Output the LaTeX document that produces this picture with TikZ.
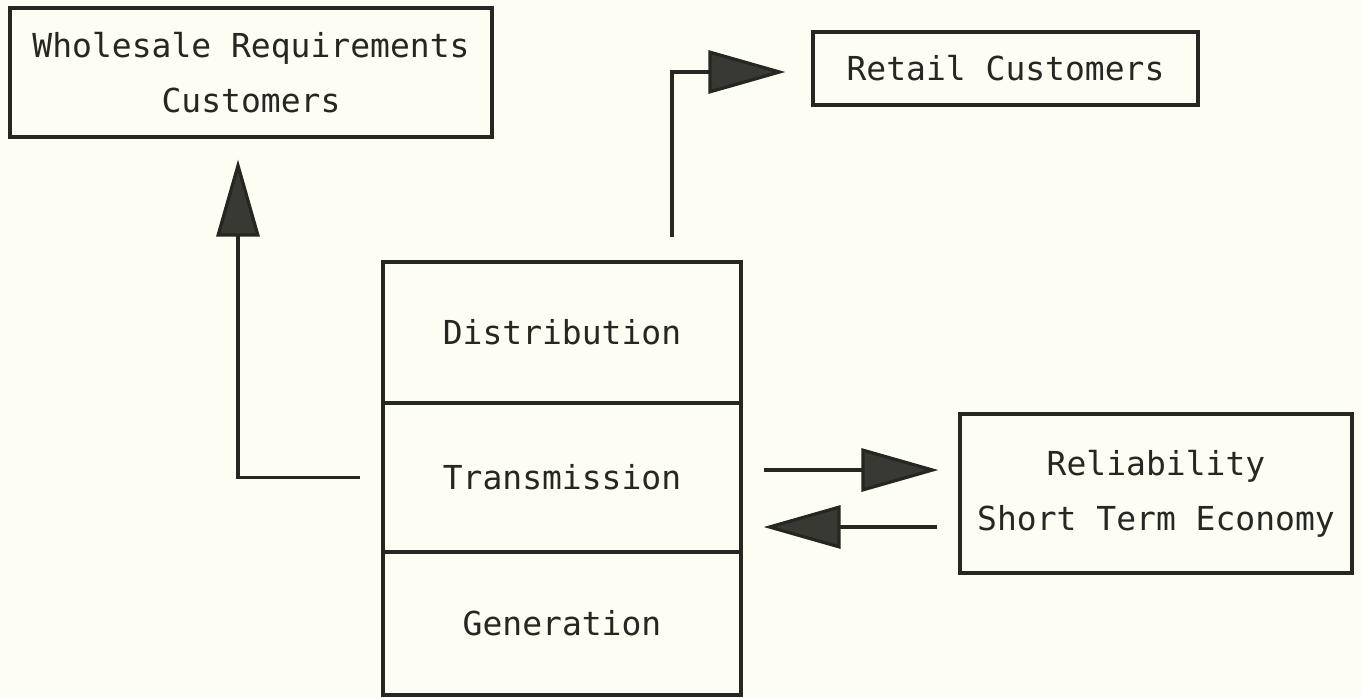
\documentclass[tikz,border=0pt]{standalone}
\usepackage{fontspec}
\newfontfamily\plotfont{DejaVu Sans Mono}
\usetikzlibrary{arrows.meta}
\definecolor{paper}{RGB}{253,253,244}
\definecolor{ink}{RGB}{38,38,34}
\definecolor{tipfill}{RGB}{55,57,50}
\begin{document}
\begin{tikzpicture}[x=0.5pt,y=-0.5pt,
  box/.style={draw=ink, line width=1.6pt, inner sep=0pt, align=center, text=ink,
    font=\plotfont\fontsize{16.5pt}{27.5pt}\selectfont},
  flow/.style={draw=ink, line width=1.6pt,
    -{Triangle[length=38.5pt,width=21.5pt,fill=tipfill]}}]
% paper
\fill[paper] (0,0) rectangle (1363,697);
\useasboundingbox (0,0) rectangle (1363,697);

% customer boxes
\node[box, minimum width=241pt, minimum height=64.5pt] (whole) at (251,72.5)
  {Wholesale Requirements\\Customers};
\node[box, minimum width=192.5pt, minimum height=36.5pt] (retail) at (1005.5,68.5)
  {Retail Customers};

% the utility stack
\node[box, minimum width=179pt, minimum height=70.5pt] (dist) at (562,332.5) {Distribution};
\node[box, minimum width=179pt, minimum height=74.5pt] (trans) at (562,477.5) {Transmission};
\node[box, minimum width=179pt, minimum height=71.5pt] (gen) at (562,623.5) {Generation};

% operating objectives
\node[box, minimum width=196pt, minimum height=79.5pt] (rel) at (1156,493.5)
  {Reliability\\Short Term Economy};

% connectors
\coordinate (rs) at (672,237);
\coordinate (rt) at ([yshift=-1.75pt]retail.west);
\draw[flow, shorten >=13pt] (rs) |- (rt);
\draw[flow, shorten <=10.5pt, shorten >=10.5pt] (trans.west) -| ([xshift=-6.5pt]whole.south);
\coordinate (t1) at ([yshift=3.75pt]trans.east);
\coordinate (t2) at ([yshift=-24.75pt]trans.east);
\draw[flow, shorten <=10.5pt, shorten >=10pt] (t1) -- (t1 -| rel.west);
\draw[flow, shorten <=10.5pt, shorten >=10.5pt] (t2 -| rel.west) -- (t2);
\end{tikzpicture}
\end{document}
